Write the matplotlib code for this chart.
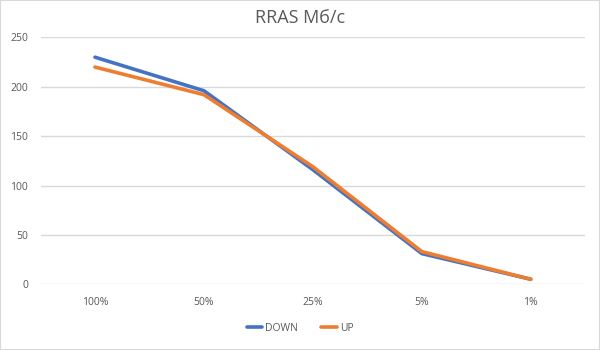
import matplotlib
matplotlib.use("Agg")
import matplotlib.pyplot as plt
from matplotlib.patches import Rectangle

categories = ["100%", "50%", "25%", "5%", "1%"]
down = [230, 196, 116, 31, 5]
up = [220, 192, 119, 33, 5]

plt.rcParams["font.family"] = ["Open Sans", "DejaVu Sans"]
TXT = "#595959"

fig = plt.figure(figsize=(6, 3.5), dpi=100)
ax = fig.add_axes([0.0675, 0.188, 0.908, 0.705])

x = range(len(categories))
ax.plot(x, down, color="#4472C4", lw=2.6, label="DOWN", solid_capstyle="round", zorder=3)
ax.plot(x, up, color="#ED7D31", lw=2.6, label="UP", solid_capstyle="round", zorder=4)

ax.set_xlim(-0.5, len(categories) - 0.5)
ax.set_ylim(0, 250)
ax.set_yticks(range(0, 251, 50))
ax.set_xticks(list(x))
ax.set_xticklabels(categories)
ax.tick_params(axis="both", length=0, labelsize=7.5, colors=TXT)
ax.tick_params(axis="x", pad=9)
ax.tick_params(axis="y", pad=9)
ax.grid(True, axis="y", color="#D9D9D9", lw=1)
ax.set_axisbelow(True)
for s in ax.spines.values():
    s.set_visible(False)

fig.suptitle("RRAS Мб/с", y=0.975, fontsize=13, color=TXT)
fig.legend(loc="lower center", bbox_to_anchor=(0.5, 0.02), ncol=2, frameon=False,
           fontsize=7.5, labelcolor=TXT, handlelength=1.5, handletextpad=0.3,
           columnspacing=2.2)

fig.patches.append(Rectangle((0, 0), 1, 1, transform=fig.transFigure, fill=False,
                             edgecolor="#D9D9D9", lw=1.5))
fig.savefig("out.png", dpi=100)
